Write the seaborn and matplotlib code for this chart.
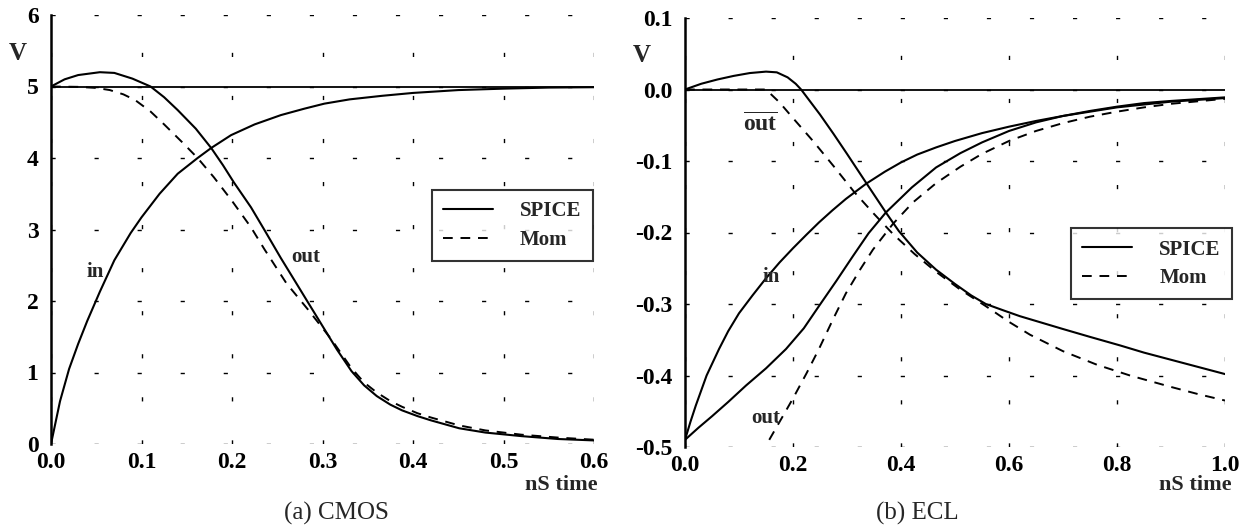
import numpy as np
import pandas as pd
import matplotlib
matplotlib.use("Agg")
import matplotlib.pyplot as plt
import seaborn as sns
from matplotlib.lines import Line2D

# ---------------- data ----------------
# (a) CMOS
cmos_in_t = [0, 0.005, 0.01, 0.02, 0.03, 0.04, 0.054, 0.07, 0.088, 0.1, 0.12, 0.14, 0.162, 0.177, 0.199,
             0.225, 0.254, 0.28, 0.302, 0.33, 0.366, 0.4, 0.45, 0.5, 0.55, 0.6]
cmos_in_v = [0, 0.3, 0.6, 1.05, 1.4, 1.72, 2.13, 2.57, 2.95, 3.17, 3.5, 3.78, 4.0, 4.14, 4.32,
             4.47, 4.6, 4.69, 4.76, 4.82, 4.87, 4.91, 4.95, 4.97, 4.985, 4.99]

cmos_out_spice_t = [0, 0.015, 0.03, 0.054, 0.07, 0.09, 0.11, 0.125, 0.14, 0.16, 0.177, 0.19, 0.202, 0.221,
                    0.236, 0.254, 0.27, 0.284, 0.3, 0.316, 0.332, 0.346, 0.36, 0.375, 0.388, 0.405,
                    0.42, 0.451, 0.48, 0.52, 0.56, 0.6]
cmos_out_spice_v = [5.0, 5.1, 5.16, 5.2, 5.19, 5.11, 5.0, 4.85, 4.67, 4.41, 4.14, 3.9, 3.66, 3.31,
                    2.99, 2.6, 2.27, 1.98, 1.65, 1.32, 1.02, 0.82, 0.67, 0.55, 0.47, 0.39,
                    0.33, 0.22, 0.16, 0.11, 0.07, 0.05]

cmos_out_mom_t = [0, 0.03, 0.05, 0.065, 0.08, 0.093, 0.11, 0.125, 0.145, 0.162, 0.18, 0.2, 0.221, 0.236,
                  0.26, 0.284, 0.31, 0.332, 0.346, 0.36, 0.375, 0.388, 0.405, 0.42, 0.451, 0.48,
                  0.52, 0.56, 0.6]
cmos_out_mom_v = [5.0, 4.995, 4.98, 4.95, 4.89, 4.81, 4.65, 4.47, 4.22, 4.0, 3.73, 3.4, 3.03, 2.72,
                  2.25, 1.88, 1.46, 1.06, 0.86, 0.72, 0.6, 0.52, 0.43, 0.37, 0.26, 0.19,
                  0.13, 0.09, 0.06]

cmos_xticks = [0.0, 0.1, 0.2, 0.3, 0.4, 0.5, 0.6]
cmos_xlabels = ["0.0", "0.1", "0.2", "0.3", "0.4", "0.5", "0.6"]
cmos_yticks = [0, 1, 2, 3, 4, 5, 6]
cmos_ylabels = ["0", "1", "2", "3", "4", "5", "6"]

# (b) ECL
ecl_in_t = [0, 0.01, 0.02, 0.04, 0.063, 0.08, 0.1, 0.125, 0.15, 0.175, 0.2, 0.225, 0.248, 0.273, 0.298,
            0.335, 0.37, 0.4, 0.43, 0.465, 0.5, 0.55, 0.6, 0.65, 0.7, 0.75, 0.8, 0.85, 0.9, 1.0]
ecl_in_v = [-0.49, -0.465, -0.442, -0.4, -0.363, -0.338, -0.313, -0.288, -0.264, -0.242, -0.222,
            -0.203, -0.186, -0.169, -0.153, -0.132, -0.115, -0.102, -0.091, -0.081, -0.072, -0.061,
            -0.052, -0.044, -0.037, -0.031, -0.025, -0.021, -0.017, -0.012]

ecl_out_spice_t = [0, 0.025, 0.05, 0.08, 0.113, 0.15, 0.187, 0.22, 0.248, 0.28, 0.311, 0.34, 0.372,
                   0.42, 0.465, 0.51, 0.55, 0.6, 0.65, 0.7, 0.75, 0.8, 0.85, 0.9, 1.0]
ecl_out_spice_v = [-0.49, -0.473, -0.457, -0.437, -0.414, -0.39, -0.363, -0.334, -0.303, -0.268,
                   -0.233, -0.201, -0.172, -0.137, -0.109, -0.089, -0.074, -0.058, -0.046, -0.037,
                   -0.03, -0.024, -0.019, -0.016, -0.011]

ecl_out_mom_t = [0.156, 0.175, 0.2, 0.225, 0.248, 0.275, 0.298, 0.325, 0.348, 0.385, 0.422, 0.465,
                 0.51, 0.55, 0.6, 0.65, 0.7, 0.75, 0.8, 0.85, 0.9, 1.0]
ecl_out_mom_v = [-0.49, -0.465, -0.432, -0.397, -0.363, -0.32, -0.285, -0.251, -0.224, -0.188,
                 -0.158, -0.131, -0.108, -0.09, -0.072, -0.058, -0.047, -0.038, -0.031, -0.025,
                 -0.02, -0.013]

ecl_outbar_spice_t = [0, 0.03, 0.06, 0.09, 0.12, 0.15, 0.17, 0.19, 0.205, 0.215, 0.23, 0.25, 0.275, 0.3,
                      0.335, 0.372, 0.396, 0.43, 0.465, 0.5, 0.53, 0.557, 0.59, 0.62, 0.66, 0.7, 0.75,
                      0.806, 0.85, 0.9, 0.95, 1.0]
ecl_outbar_spice_v = [0, 0.008, 0.014, 0.019, 0.023, 0.025, 0.024, 0.017, 0.008, 0.0, -0.015, -0.035,
                      -0.062, -0.09, -0.13, -0.172, -0.198, -0.228, -0.252, -0.272, -0.288, -0.3,
                      -0.309, -0.317, -0.326, -0.335, -0.346, -0.358, -0.368, -0.378, -0.388, -0.398]

ecl_outbar_mom_t = [0, 0.15, 0.175, 0.2, 0.237, 0.275, 0.313, 0.35, 0.385, 0.425, 0.465, 0.51, 0.557,
                    0.6, 0.639, 0.7, 0.763, 0.824, 0.9, 0.95, 1.0]
ecl_outbar_mom_v = [0, 0.0, -0.018, -0.04, -0.072, -0.107, -0.143, -0.174, -0.202, -0.23, -0.255,
                    -0.28, -0.303, -0.325, -0.343, -0.366, -0.385, -0.4, -0.416, -0.426, -0.435]

ecl_xticks = [0.0, 0.2, 0.4, 0.6, 0.8, 1.0]
ecl_xlabels = ["0.0", "0.2", "0.4", "0.6", "0.8", "1.0"]
ecl_yticks = [-0.5, -0.4, -0.3, -0.2, -0.1, 0.0, 0.1]
ecl_ylabels = ["-0.5", "-0.4", "-0.3", "-0.2", "-0.1", "0.0", "0.1"]

legend_labels = ["SPICE", "Mom"]
captions = ["(a) CMOS", "(b) ECL"]

# ---------------- style ----------------
sns.set_theme(style="white")
plt.rcParams["font.family"] = ["Liberation Serif", "DejaVu Serif"]
plt.rcParams["mathtext.fontset"] = "custom"
plt.rcParams["mathtext.rm"] = "Liberation Serif"
plt.rcParams["mathtext.bf"] = "Liberation Serif:bold"

W, H = 1253, 529
fig = plt.figure(figsize=(W / 100, H / 100), dpi=100)
fig.patch.set_facecolor("white")

def px_ax(x0, x1, y0, y1):
    return fig.add_axes([x0 / W, 1 - y1 / H, (x1 - x0) / W, (y1 - y0) / H])

axA = px_ax(51, 594, 15, 444)
axB = px_ax(685, 1225, 18, 447)

SOLID_LW = 1.5
DASH = (0, (5, 4))

def draw(ax, t, v, dashed=False):
    df = pd.DataFrame({"t": t, "v": v})
    sns.lineplot(data=df, x="t", y="v", ax=ax, color="black", lw=SOLID_LW if not dashed else 1.4,
                 sort=False, estimator=None)
    line = ax.lines[-1]
    line.set_solid_joinstyle("round")
    if dashed:
        line.set_linestyle(DASH)

def style_axis(ax, xlim, ylim, xt, xl, yt, yl):
    ax.set_xlim(*xlim)
    ax.set_ylim(*ylim)
    ax.set_xticks(xt)
    ax.set_xticklabels(xl)
    ax.set_yticks(yt)
    ax.set_yticklabels(yl)
    ax.set_xlabel("")
    ax.set_ylabel("")
    for s in ["top", "right", "bottom"]:
        ax.spines[s].set_visible(False)
    ax.spines["left"].set_color("black")
    ax.spines["left"].set_linewidth(1.8)
    ax.tick_params(axis="both", length=0, labelsize=17, colors="black")
    ax.tick_params(axis="x", pad=6)
    ax.tick_params(axis="y", pad=9)
    for lab in ax.get_xticklabels() + ax.get_yticklabels():
        lab.set_fontweight("bold")
    ax.grid(True, color="black", linewidth=1.0, linestyle=(0, (3, 28)))
    ax.set_facecolor("white")

# ---- panel (a)
draw(axA, cmos_in_t, cmos_in_v)
draw(axA, cmos_out_spice_t, cmos_out_spice_v)
draw(axA, cmos_out_mom_t, cmos_out_mom_v, dashed=True)
axA.axhline(5, color="black", lw=1.3)
style_axis(axA, (0, 0.6), (0, 6), cmos_xticks, cmos_xlabels, cmos_yticks, cmos_ylabels)
axA.text(0.049, 2.4, "in", fontsize=15, fontweight="bold", ha="center", va="center")
axA.text(0.282, 2.62, "out", fontsize=15, fontweight="bold", ha="center", va="center")

# ---- panel (b)
draw(axB, ecl_in_t, ecl_in_v)
draw(axB, ecl_out_spice_t, ecl_out_spice_v)
draw(axB, ecl_out_mom_t, ecl_out_mom_v, dashed=True)
draw(axB, ecl_outbar_spice_t, ecl_outbar_spice_v)
draw(axB, ecl_outbar_mom_t, ecl_outbar_mom_v, dashed=True)
axB.axhline(0, color="black", lw=1.3)
style_axis(axB, (0, 1.0), (-0.5, 0.1), ecl_xticks, ecl_xlabels, ecl_yticks, ecl_ylabels)
axB.text(0.14, -0.05, r"$\overline{\mathbf{out}}$", fontsize=17, ha="center", va="center")
axB.text(0.16, -0.262, "in", fontsize=15, fontweight="bold", ha="center", va="center")
axB.text(0.15, -0.46, "out", fontsize=15, fontweight="bold", ha="center", va="center")

# ---- legends
handles = [Line2D([], [], color="black", lw=1.5),
           Line2D([], [], color="black", lw=1.4, linestyle=DASH)]
for ax, anchor in [(axA, (0.998, 0.592)), (axB, (1.013, 0.51))]:
    leg = ax.legend(handles, legend_labels, loc="upper right", bbox_to_anchor=anchor,
                    prop={"family": "Liberation Serif", "weight": "bold", "size": 15},
                    frameon=True, fancybox=False, handlelength=2.4, handletextpad=1.3,
                    borderpad=0.55, labelspacing=0.4, borderaxespad=0)
    leg.get_frame().set_edgecolor("black")
    leg.get_frame().set_linewidth(1.5)

# ---- axis texts
def ftext(x, y, s, **kw):
    fig.text(x / W, 1 - y / H, s, **kw)

ftext(18, 53, "V", fontsize=18, fontweight="bold", ha="center", va="center")
ftext(642, 55, "V", fontsize=18, fontweight="bold", ha="center", va="center")
ftext(598, 485, "nS time", fontsize=16, fontweight="bold", ha="right", va="center")
ftext(1232, 485, "nS time", fontsize=16, fontweight="bold", ha="right", va="center")
ftext(336, 513, captions[0], fontsize=18, ha="center", va="center")
ftext(917, 513, captions[1], fontsize=18, ha="center", va="center")

fig.savefig("out.png", dpi=100, facecolor="white")
